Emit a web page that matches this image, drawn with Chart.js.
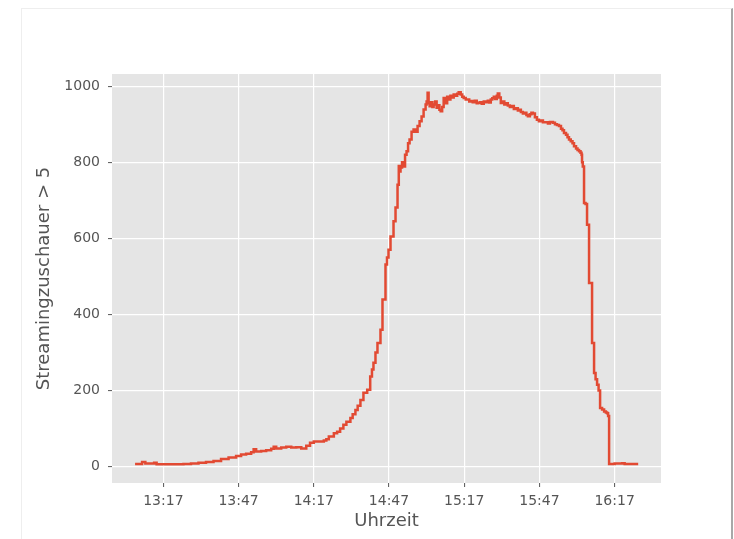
<!DOCTYPE html>
<html>
<head>
<meta charset="utf-8">
<script src="https://cdn.jsdelivr.net/npm/chart.js@4"></script>
<style>
body{margin:0;background:#fff;}
#wrap{position:relative;width:734px;height:539px;}
#frame{position:absolute;left:21px;top:8px;width:709px;height:540px;border:1px solid #eeeeee;border-right:2px solid #a8a8a8;}
#box{position:absolute;left:0;top:0;width:734px;height:539px;}
</style>
</head>
<body>
<div id="wrap">
<div id="frame"></div>
<div id="box"><canvas id="chart"></canvas></div>
</div>
<script>
// minutes after 13:00
const minutes = [
5.7,8.5,9.8,13.3,14.3,20,25,28,31,34,37,40,43,46,48,50,52,53,54,56,58,60,61,62,64,66,68,70,72,74,75.5,77,79,81,82,83,85,
86.3,87.5,88.8,90,91.6,92.5,93.6,94.5,95.6,96.8,98.3,99.5,100.2,100.8,101.6,102.4,103.6,104.4,105.6,106.2,106.8,107.6,108.8,109.6,110.4,110.9,111.3,111.6,112.2,112.8,113.4,114.0,114.6,115.2,116.0,116.8,117.6,118.4,119.2,120.0,120.8,121.6,122.0,122.4,122.8,123.2,123.8,124.3,124.8,125.4,126.0,126.6,127.1,127.6,128.2,128.8,129.5,130.2,130.8,131.5,132.2,132.8,133.5,134.2,134.8,135.6,136.2,136.8,137.6,138.4,139.0,139.6,140.4,141.2,142.0,142.4,143.2,144.0,144.8,145.6,146.4,147.0,147.6,148.2,148.8,149.4,150.0,150.4,151.0,151.6,152.4,153.0,153.8,154.4,155.2,156.0,156.8,157.6,158.4,159.0,159.6,160.4,161.2,161.8,162.4,163.2,163.8,164.4,165.2,166.0,166.8,167.6,168.4,169.6,170.4,171.2,172.4,173.2,174.0,174.8,175.6,176.2,176.8,177.6,178.2,178.8,179.5,180.2,180.8,181.6,182.2,182.8,183.4,183.8,184.0,184.3,184.8,185.4,186.0,186.8,188.0,188.8,189.4,190.0,190.6,191.2,192.0,192.8,193.5,194.0,194.4,194.8,197,200,201,206.4
];
const viewers = [
7,12,8,10,6,6,7,8,10,12,15,20,24,28,32,34,38,46,40,41,43,47,52,48,50,52,50,51,48,55,63,66,66,69,72,79,88,
92,100,110,118,128,138,149,160,175,194,202,237,255,273,300,325,360,439,531,550,570,605,645,681,741,790,776,786,800,789,820,829,850,860,880,886,880,895,908,920,939,952,960,983,955,947,958,945,952,960,943,950,938,934,945,969,955,972,965,975,970,978,975,980,984,978,972,969,965,965,960,961,958,962,955,956,958,954,960,958,962,957,965,968,972,966,975,981,970,956,960,952,955,949,945,948,940,942,936,938,932,928,930,924,921,926,930,928,918,912,908,910,905,905,902,906,904,900,898,895,888,884,877,872,866,860,855,850,842,836,832,829,825,820,800,789,693,690,636,483,325,246,230,215,200,154,150,145,142,140,133,7,8,9,7,7
];
const xTicks = [17,47,77,107,137,167,197];
const yTicks = [0,200,400,600,800,1000];

const points = minutes.map((m,i)=>({x:m,y:viewers[i]}));

function clock(m){
const h = 13 + Math.floor(m/60);
const mm = Math.round(m%60);
return h + ":" + (mm<10 ? "0"+mm : mm);
}

const plotBg = {
id:"plotBg",
beforeDraw(chart){
const a = chart.chartArea;
const ctx = chart.ctx;
ctx.save();
ctx.fillStyle = "#E5E5E5";
ctx.fillRect(a.left,a.top,a.right-a.left,a.bottom-a.top);
ctx.restore();
}
};

new Chart(document.getElementById("chart"),{
type:"line",
data:{
datasets:[{
data:points,
borderColor:"#E24A33",
borderWidth:2.5,
pointRadius:0,
stepped:true,
fill:false
}]
},
options:{
responsive:true,
maintainAspectRatio:false,
animation:false,
layout:{padding:{left:0,top:74,right:73,bottom:6}},
plugins:{legend:{display:false},tooltip:{enabled:false}},
scales:{
x:{
type:"linear",
min:-3.5,
max:215.5,
afterBuildTicks:(s)=>{s.ticks = xTicks.map(v=>({value:v}));},
afterFit:(s)=>{s.height = 50;},
border:{display:false},
grid:{color:"#ffffff",lineWidth:1.2,tickColor:"#555555",tickLength:4,tickWidth:1},
ticks:{color:"#555555",font:{family:"DejaVu Sans",size:14},padding:6,maxRotation:0,callback:(v)=>clock(v)},
title:{display:true,text:"Uhrzeit",color:"#555555",font:{family:"DejaVu Sans",size:18},padding:{top:0,bottom:1}}
},
y:{
min:-43,
max:1032,
afterBuildTicks:(s)=>{s.ticks = yTicks.map(v=>({value:v}));},
afterFit:(s)=>{s.width = 112;},
border:{display:false},
grid:{color:"#ffffff",lineWidth:1.2,tickColor:"#555555",tickLength:4,tickWidth:1},
ticks:{color:"#555555",font:{family:"DejaVu Sans",size:14},padding:8,callback:(v)=>String(v)},
title:{display:true,text:"Streamingzuschauer > 5",color:"#555555",font:{family:"DejaVu Sans",size:18},padding:{top:34,bottom:0}}
}
}
},
plugins:[plotBg]
});
</script>
</body>
</html>
